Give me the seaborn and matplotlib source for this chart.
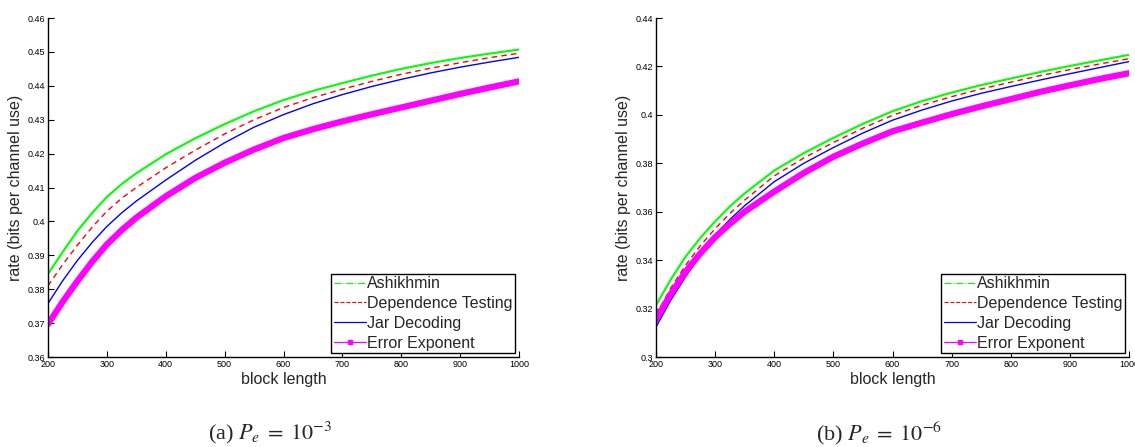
import matplotlib
matplotlib.use("Agg")
import matplotlib.pyplot as plt
import seaborn as sns
import pandas as pd
from matplotlib.lines import Line2D

block_length = [200, 225, 250, 275, 300, 325, 350, 400, 450, 500, 550, 600,
                650, 700, 750, 800, 850, 900, 950, 1000]

# (a) Pe = 1e-3
a_ashikhmin = [0.3845, 0.3910, 0.3972, 0.4025, 0.4072, 0.4110, 0.4142, 0.4198, 0.4245, 0.4287,
               0.4325, 0.4358, 0.4385, 0.4408, 0.4430, 0.4450, 0.4467, 0.4482, 0.4495, 0.4507]
a_dependence = [0.3810, 0.3873, 0.3930, 0.3983, 0.4030, 0.4068, 0.4100, 0.4158, 0.4210, 0.4258,
                0.4300, 0.4336, 0.4365, 0.4390, 0.4413, 0.4434, 0.4452, 0.4468, 0.4483, 0.4496]
a_jar = [0.3758, 0.3825, 0.3885, 0.3938, 0.3985, 0.4025, 0.4060, 0.4122, 0.4180, 0.4232,
         0.4278, 0.4315, 0.4347, 0.4374, 0.4398, 0.4419, 0.4438, 0.4455, 0.4470, 0.4484]
a_error_exp = [0.3697, 0.3763, 0.3824, 0.3881, 0.3932, 0.3974, 0.4011, 0.4074, 0.4128, 0.4173,
               0.4212, 0.4246, 0.4272, 0.4295, 0.4316, 0.4336, 0.4356, 0.4376, 0.4395, 0.4413]

# (b) Pe = 1e-6
b_ashikhmin = [0.3214, 0.3320, 0.3414, 0.3492, 0.3560, 0.3622, 0.3676, 0.3770, 0.3842, 0.3905,
               0.3963, 0.4015, 0.4057, 0.4092, 0.4123, 0.4150, 0.4177, 0.4202, 0.4225, 0.4248]
b_dependence = [0.3173, 0.3285, 0.3379, 0.3460, 0.3530, 0.3593, 0.3648, 0.3748, 0.3822, 0.3886,
                0.3945, 0.3998, 0.4040, 0.4075, 0.4107, 0.4135, 0.4162, 0.4187, 0.4210, 0.4232]
b_jar = [0.3124, 0.3235, 0.3331, 0.3422, 0.3505, 0.3568, 0.3625, 0.3724, 0.3800, 0.3865,
         0.3925, 0.3978, 0.4020, 0.4057, 0.4089, 0.4117, 0.4144, 0.4170, 0.4195, 0.4220]
b_error_exp = [0.3155, 0.3260, 0.3352, 0.3428, 0.3495, 0.3550, 0.3600, 0.3683, 0.3760, 0.3827,
               0.3882, 0.3932, 0.3968, 0.4003, 0.4035, 0.4065, 0.4095, 0.4122, 0.4148, 0.4172]

labels = ["Ashikhmin", "Dependence Testing", "Jar Decoding", "Error Exponent"]
a_yticks = [0.36, 0.37, 0.38, 0.39, 0.40, 0.41, 0.42, 0.43, 0.44, 0.45, 0.46]
a_yticklabels = ["0.36", "0.37", "0.38", "0.39", "0.4", "0.41", "0.42", "0.43", "0.44", "0.45", "0.46"]
b_yticks = [0.30, 0.32, 0.34, 0.36, 0.38, 0.40, 0.42, 0.44]
b_yticklabels = ["0.3", "0.32", "0.34", "0.36", "0.38", "0.4", "0.42", "0.44"]
xticks = [200, 300, 400, 500, 600, 700, 800, 900, 1000]
captions = [r"(a) $P_e\;=\;10^{-3}$", r"(b) $P_e\;=\;10^{-6}$"]

sns.set_style("ticks")
plt.rcParams["font.family"] = ["Liberation Sans", "DejaVu Sans"]
plt.rcParams["mathtext.fontset"] = "stix"

fig = plt.figure(figsize=(11.35, 4.47), dpi=100)
ax_a = fig.add_axes([48 / 1135, 90 / 447, 471 / 1135, 339 / 447])
ax_b = fig.add_axes([656 / 1135, 90 / 447, 473 / 1135, 339 / 447])

styles = [
    dict(color=(0, 1, 0), lw=1.5, ls="-"),
    dict(color=(1, 0, 0), lw=1.0, ls=(0, (4, 3))),
    dict(color=(0, 0, 1), lw=1.0, ls="-"),
    dict(color=(1, 0, 1), lw=4.5, ls="-"),
]

panels = [
    (ax_a, [a_ashikhmin, a_dependence, a_jar, a_error_exp], (0.36, 0.46), a_yticks, a_yticklabels, captions[0]),
    (ax_b, [b_ashikhmin, b_dependence, b_jar, b_error_exp], (0.30, 0.44), b_yticks, b_yticklabels, captions[1]),
]

legend_handles = [
    Line2D([], [], color=(0, 1, 0), lw=0.8, ls="-."),
    Line2D([], [], color=(1, 0, 0), lw=0.8, ls="--"),
    Line2D([], [], color=(0, 0, 1), lw=0.9, ls="-"),
    Line2D([], [], color=(1, 0, 1), lw=0.9, ls="-", marker="s", markersize=2.5, markevery=[1]),
]

for ax, series, ylim, yt, ytl, cap in panels:
    for vals, st in zip(series, styles):
        df = pd.DataFrame({"block": block_length, "rate": vals})
        sns.lineplot(data=df, x="block", y="rate", ax=ax, color=st["color"],
                     linewidth=st["lw"], linestyle=st["ls"], legend=False)
    ax.set_xlim(200, 1000)
    ax.set_ylim(*ylim)
    ax.set_xticks(xticks)
    ax.set_xticklabels([str(t) for t in xticks])
    ax.set_yticks(yt)
    ax.set_yticklabels(ytl)
    ax.tick_params(direction="in", labelsize=6.5, length=4, width=0.8, colors="black", pad=2)
    for s in ["top", "right"]:
        ax.spines[s].set_visible(False)
    for s in ["left", "bottom"]:
        ax.spines[s].set_color("black")
        ax.spines[s].set_linewidth(1.0)
    ax.set_xlabel("block length", fontsize=11.5, labelpad=2)
    ax.set_ylabel("rate (bits per channel use)", fontsize=11.5, labelpad=3)
    leg = ax.legend(legend_handles, labels, loc="lower right", fontsize=11.5,
                    frameon=True, fancybox=False, framealpha=1, edgecolor="black",
                    borderpad=0.15, labelspacing=0.3, handlelength=2.0,
                    handletextpad=0.1, borderaxespad=0.25)
    leg.get_frame().set_linewidth(1.0)
    bbox = ax.get_position()
    fig.text(bbox.x0 + bbox.width / 2 - 0.012, 14 / 447, cap, ha="center", va="center",
             fontsize=16, family="Liberation Serif")

fig.savefig("out.png", dpi=100, facecolor="white")
